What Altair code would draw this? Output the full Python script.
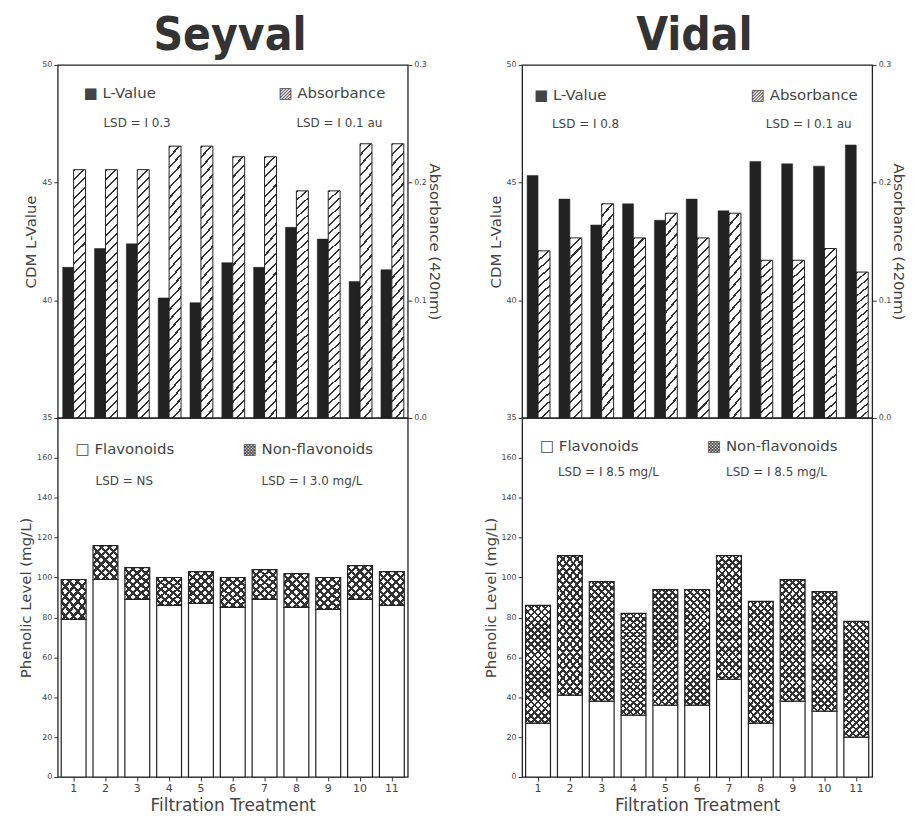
import altair as alt
import pandas as pd

# ---------------- data ----------------
treatments = [1, 2, 3, 4, 5, 6, 7, 8, 9, 10, 11]

seyval_L = [41.4, 42.2, 42.4, 40.1, 39.9, 41.6, 41.4, 43.1, 42.6, 40.8, 41.3]
seyval_abs = [0.211, 0.211, 0.211, 0.231, 0.231, 0.222, 0.222, 0.193, 0.193, 0.233, 0.233]
seyval_flav = [79, 99, 89, 86, 87, 85, 89, 85, 84, 89, 86]
seyval_nonflav = [20, 17, 16, 14, 16, 15, 15, 17, 16, 17, 17]

vidal_L = [45.3, 44.3, 43.2, 44.1, 43.4, 44.3, 43.8, 45.9, 45.8, 45.7, 46.6]
vidal_abs = [0.142, 0.153, 0.182, 0.153, 0.174, 0.153, 0.174, 0.134, 0.134, 0.144, 0.124]
vidal_flav = [27, 41, 38, 31, 36, 36, 49, 27, 38, 33, 20]
vidal_nonflav = [59, 70, 60, 51, 58, 58, 62, 61, 61, 60, 58]

L_ticks = [35, 40, 45, 50]
abs_ticks = [0.0, 0.1, 0.2, 0.3]
phen_ticks = [0, 20, 40, 60, 80, 100, 120, 140, 160]

seyval_legend = ["\u25a0 L-Value", "LSD = I 0.3", "\u25a8 Absorbance", "LSD = I 0.1 au",
                 "\u25a1 Flavonoids", "LSD = NS", "\u25a9 Non-flavonoids", "LSD = I 3.0 mg/L"]
vidal_legend = ["\u25a0 L-Value", "LSD = I 0.8", "\u25a8 Absorbance", "LSD = I 0.1 au",
                "\u25a1 Flavonoids", "LSD = I 8.5 mg/L", "\u25a9 Non-flavonoids", "LSD = I 8.5 mg/L"]

W = 352
H_UP = 355
H_LO = 361
FONT = "DejaVu Sans"
TXT = "#444444"
INK = "#222222"

# legend text anchor positions inside each panel (px from panel top-left)
seyval_pos = [(26, 28), (46, 58), (222, 28), (240, 58), (18, 31), (38, 63), (186, 31), (205, 63)]
vidal_pos = [(12, 30), (30, 59), (230, 30), (245, 59), (18, 28), (36, 54), (186, 28), (205, 54)]


def hatch(n, direction, a, frac, line="#333333", bg="white"):
    stops = []
    for i in range(n):
        s0 = i / n
        s1 = (i + frac) / n
        s2 = (i + 1) / n
        stops += [alt.GradientStop(offset=s0, color=line), alt.GradientStop(offset=s1, color=line),
                  alt.GradientStop(offset=s1, color=bg), alt.GradientStop(offset=s2, color=bg)]
    k = (1 + a) / (a * a + 1)
    if direction == "/":
        x1, y1, x2, y2 = 0, 0, a * k, k
    else:
        x1, y1, x2, y2 = 1, 0, 1 - a * k, k
    return alt.LinearGradient(gradient="linear", stops=stops, x1=x1, y1=y1, x2=x2, y2=y2)


def label(text, pos, size):
    return alt.Chart(alt.InlineData(values=[{"k": 0}])).mark_text(
        text=text, align="left", baseline="middle", font=FONT, fontSize=size, color=TXT
    ).encode(x=alt.value(pos[0]), y=alt.value(pos[1]))


def panel(name, L, A, flav, nonflav, leg, pos, abs_n, abs_wh, nf_n, nf_wh):
    df = pd.DataFrame({"t": treatments, "L": L, "A": A, "flav": flav, "nonflav": nonflav})
    xs = alt.X("t:O", axis=None, scale=alt.Scale(paddingInner=0, paddingOuter=0))

    base = alt.Chart(df)
    lbar = base.mark_bar(width=11, xOffset=-5.5, fill=INK, stroke=INK, strokeWidth=0.5).encode(
        x=xs,
        y=alt.Y("L:Q", scale=alt.Scale(domain=[35, 50], zero=False, nice=False),
                axis=alt.Axis(values=L_ticks, format="d", title="CDM L-Value", orient="left",
                              titlePadding=3)),
        y2=alt.datum(35),
    )
    abar = base.mark_bar(width=12, xOffset=6, fill=hatch(abs_n, "/", abs_wh, 0.22),
                         stroke=INK, strokeWidth=1).encode(
        x=xs,
        y=alt.Y("A:Q", scale=alt.Scale(domain=[0, 0.3], nice=False),
                axis=alt.Axis(values=abs_ticks, format=".1f", title="Absorbance (420nm)",
                              orient="right", titleAngle=90, titlePadding=0)),
        y2=alt.datum(0),
    )
    upper = alt.layer(
        lbar, abar,
        label(leg[0], pos[0], 15), label(leg[1], pos[1], 12),
        label(leg[2], pos[2], 15), label(leg[3], pos[3], 12),
    ).resolve_scale(y="independent").properties(width=W, height=H_UP)

    xl = alt.X("t:O", scale=alt.Scale(paddingInner=0, paddingOuter=0),
               axis=alt.Axis(labelAngle=0, title="Filtration Treatment", titleFontSize=17,
                             labelFontSize=11, titlePadding=4))
    ys = alt.Scale(domain=[0, 180], nice=False)
    yax = alt.Axis(values=phen_ticks, title="Phenolic Level (mg/L)", titlePadding=3)
    fbar = base.mark_bar(width=25, fill="white", stroke=INK, strokeWidth=1.2).encode(
        x=xl, y=alt.Y("flav:Q", scale=ys, axis=yax), y2=alt.datum(0))
    nf1 = base.transform_calculate(total="datum.flav + datum.nonflav").mark_bar(
        width=25, fill=hatch(nf_n, "/", nf_wh, 0.38), strokeWidth=0).encode(
        x=xl, y=alt.Y("total:Q", scale=ys, axis=yax), y2="flav:Q")
    nf2 = base.transform_calculate(total="datum.flav + datum.nonflav").mark_bar(
        width=25, fill=hatch(nf_n, "\\", nf_wh, 0.38, bg="rgba(255,255,255,0)"),
        stroke=INK, strokeWidth=1.2).encode(
        x=xl, y=alt.Y("total:Q", scale=ys, axis=yax), y2="flav:Q")
    lower = alt.layer(
        fbar, nf1, nf2,
        label(leg[4], pos[4], 15), label(leg[5], pos[5], 12),
        label(leg[6], pos[6], 15), label(leg[7], pos[7], 12),
    ).properties(width=W, height=H_LO)

    return alt.vconcat(upper, lower, spacing=0, bounds="flush").properties(
        title=alt.Title(name, fontSize=46,
                        font="Liberation Sans Narrow, DejaVu Sans Condensed, Liberation Sans, sans-serif",
                        fontWeight="bold", color="#333333", anchor="middle", offset=0)
    )


sey = panel("Seyval", seyval_L, seyval_abs, seyval_flav, seyval_nonflav, seyval_legend, seyval_pos,
            28, 0.048, 7, 0.74)
vid = panel("Vidal", vidal_L, vidal_abs, vidal_flav, vidal_nonflav, vidal_legend, vidal_pos,
            20, 0.067, 20, 0.217)

chart = alt.hconcat(sey, vid, spacing=40).properties(
    padding={"left": 10, "top": 3, "right": 0, "bottom": 0}
).configure_view(
    stroke="#222222", strokeWidth=1.3
).configure_axis(
    grid=False, domain=False, tickColor="#333333", tickSize=4,
    labelFont=FONT, labelFontSize=8, labelColor=TXT, labelPadding=2,
    titleFont=FONT, titleFontSize=15, titleFontWeight="normal", titleColor=TXT
)

chart.save("out.html", embed_options={"renderer": "svg", "actions": False})
